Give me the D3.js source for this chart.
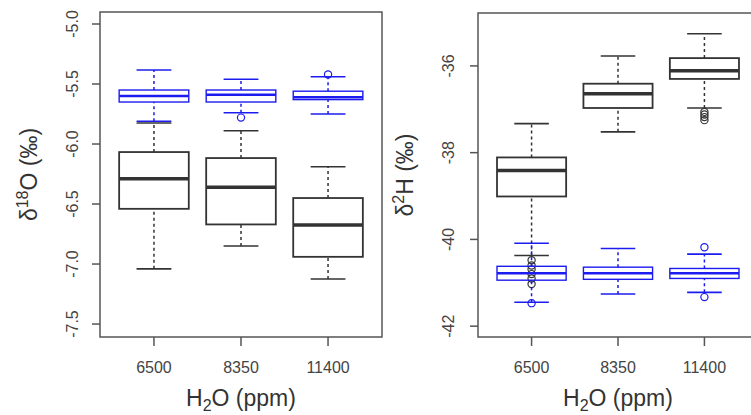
<!DOCTYPE html>
<html>
<head>
<meta charset="utf-8">
<script src="https://cdn.jsdelivr.net/npm/d3@7"></script>
<style>
	body { margin: 0; background: #fff; }
	svg { display: block; font-family: "Liberation Sans", Arial, sans-serif; }
	.frame { fill: none; stroke: #555; stroke-width: 1.5; }
	.tick-lab { fill: #444; }
</style>
</head>
<body>
<div id="chart"></div>
<script>
// groups on the x axis
let categories	= ["6500", "8350", "11400"];

// five-number summaries per group: [lower whisker, q1, median, q3, upper whisker]
let d18oBlack	= [[-7.04, -6.54, -6.29, -6.067, -5.825], [-6.85, -6.67, -6.36, -6.117, -5.89], [-7.125, -6.94, -6.675, -6.45, -6.19]];
let d18oBlue	= [[-5.81, -5.65, -5.60, -5.55, -5.383], [-5.74, -5.65, -5.59, -5.55, -5.46], [-5.75, -5.63, -5.61, -5.56, -5.44]];
let d18oBlackOut	= [[], [], []];
let d18oBlueOut		= [[], [-5.78], [-5.42]];

let d2hBlack	= [[-40.37, -39.01, -38.41, -38.11, -37.33], [-37.52, -36.97, -36.64, -36.41, -35.77], [-36.97, -36.30, -36.11, -35.82, -35.26]];
let d2hBlue		= [[-41.45, -40.94, -40.78, -40.62, -40.09], [-41.26, -40.92, -40.78, -40.64, -40.21], [-41.22, -40.90, -40.78, -40.67, -40.34]];
let d2hBlackOut	= [[-40.48, -40.60, -40.69, -40.80, -40.90, -41.03], [], [-37.06, -37.12, -37.18, -37.25]];
let d2hBlueOut	= [[-41.47], [], [-40.18, -41.33]];

// tick values
let d18oTicks	= [-7.5, -7.0, -6.5, -6.0, -5.5, -5.0];
let d2hTicks	= [-42, -40, -38, -36];

let svg = d3.select("#chart").append("svg")
	.attr("width", 751)
	.attr("height", 415);

function hyphen(fmt) {
	return (v) => fmt(v).replace("\u2212", "-");
}

function drawPanel(opt) {
	let x = d3.scaleLinear().domain([0.38, 3.62]).range([opt.left, opt.right]);
	let y = d3.scaleLinear().domain(opt.yDomain).range([337, opt.top]);
	let half = (x(1.4) - x(1)) / 1;   // box half width (boxwex 0.8)
	let cap = half / 2;

	let g = svg.append("g");

	function boxes(stats, outs, col, medW, boxW, fill) {
		let grp = g.append("g")
			.selectAll("g")
			.data(stats)
			.enter().append("g");

		// whiskers
		grp.append("line")
			.attr("x1", (d, i) => x(i + 1)).attr("x2", (d, i) => x(i + 1))
			.attr("y1", (d) => y(d[0])).attr("y2", (d) => y(d[1]))
			.attr("stroke", col).attr("stroke-width", 1.5).attr("stroke-dasharray", "3,3");
		grp.append("line")
			.attr("x1", (d, i) => x(i + 1)).attr("x2", (d, i) => x(i + 1))
			.attr("y1", (d) => y(d[3])).attr("y2", (d) => y(d[4]))
			.attr("stroke", col).attr("stroke-width", 1.5).attr("stroke-dasharray", "3,3");

		// staples
		[0, 4].forEach((k) => {
			grp.append("line")
				.attr("x1", (d, i) => x(i + 1) - cap).attr("x2", (d, i) => x(i + 1) + cap)
				.attr("y1", (d) => y(d[k])).attr("y2", (d) => y(d[k]))
				.attr("stroke", col).attr("stroke-width", 1.6);
		});

		grp.append("rect")
			.attr("x", (d, i) => x(i + 1) - half)
			.attr("width", half * 2)
			.attr("y", (d) => y(d[3]))
			.attr("height", (d) => y(d[1]) - y(d[3]))
			.attr("fill", fill)
			.attr("stroke", col).attr("stroke-width", boxW);

		grp.append("line")
			.attr("x1", (d, i) => x(i + 1) - half).attr("x2", (d, i) => x(i + 1) + half)
			.attr("y1", (d) => y(d[2])).attr("y2", (d) => y(d[2]))
			.attr("stroke", col).attr("stroke-width", medW);

		// outliers
		grp.selectAll("circle")
			.data((d, i) => outs[i].map((v) => ({ i: i, v: v })))
			.enter().append("circle")
			.attr("cx", (o) => x(o.i + 1))
			.attr("cy", (o) => y(o.v))
			.attr("r", 3.6)
			.attr("fill", "none")
			.attr("stroke", col).attr("stroke-width", 1.2);
	}

	boxes(opt.black, opt.blackOut, "#333", 3.5, 1.8, "#fff");
	boxes(opt.blue, opt.blueOut, "#1c1cf0", 2.6, 1.4, "none");

	// frame
	g.append("rect").attr("class", "frame")
		.attr("x", opt.left).attr("y", opt.top)
		.attr("width", opt.right - opt.left).attr("height", 337 - opt.top);

	// y axis
	let ya = g.append("g").attr("transform", "translate(" + opt.left + ",0)");
	ya.selectAll("line").data(opt.ticks).enter().append("line")
		.attr("x1", -8).attr("x2", 0)
		.attr("y1", (v) => y(v)).attr("y2", (v) => y(v))
		.attr("stroke", "#555").attr("stroke-width", 1.5);
	ya.selectAll("text").data(opt.ticks).enter().append("text")
		.attr("class", "tick-lab")
		.attr("transform", (v) => "translate(" + (opt.labX - opt.left) + "," + y(v) + ") rotate(-90)")
		.attr("text-anchor", "middle")
		.style("font-size", "16px")
		.text(hyphen(opt.fmt));

	// x axis
	let xa = g.append("g").attr("transform", "translate(0,337)");
	xa.selectAll("line").data(categories).enter().append("line")
		.attr("x1", (d, i) => x(i + 1)).attr("x2", (d, i) => x(i + 1))
		.attr("y1", 0).attr("y2", 9)
		.attr("stroke", "#555").attr("stroke-width", 1.5);
	xa.selectAll("text").data(categories).enter().append("text")
		.attr("class", "tick-lab")
		.attr("x", (d, i) => x(i + 1))
		.attr("y", 36)
		.attr("text-anchor", "middle")
		.style("font-size", "16px")
		.text((d) => d);

	// x title
	let xt = g.append("text")
		.attr("x", x(2)).attr("y", 406)
		.attr("text-anchor", "middle")
		.attr("fill", "#333")
		.style("font-size", "23px");
	xt.append("tspan").text("H");
	xt.append("tspan").attr("dy", 5).style("font-size", "16px").text("2");
	xt.append("tspan").attr("dy", -5).text("O (ppm)");

	// y title
	let yt = g.append("text")
		.attr("transform", "translate(" + opt.titleX + "," + ((opt.top + 337) / 2) + ") rotate(-90)")
		.attr("text-anchor", "middle")
		.attr("fill", "#333")
		.style("font-size", "23px");
	yt.append("tspan").text("\u03b4");
	yt.append("tspan").attr("dy", -9).style("font-size", "16px").text(opt.sup);
	yt.append("tspan").attr("dy", 9).text(opt.elem + " (\u2030)");
}

drawPanel({
	left: 100, right: 382, top: 12,
	yDomain: [-7.608, -4.9],
	black: d18oBlack, blue: d18oBlue, blackOut: d18oBlackOut, blueOut: d18oBlueOut,
	ticks: d18oTicks, fmt: d3.format(".1f"),
	labX: 78, titleX: 37, sup: "18", elem: "O"
});

drawPanel({
	left: 478, right: 758, top: 13,
	yDomain: [-42.25, -34.78],
	black: d2hBlack, blue: d2hBlue, blackOut: d2hBlackOut, blueOut: d2hBlueOut,
	ticks: d2hTicks, fmt: d3.format("d"),
	labX: 454, titleX: 413, sup: "2", elem: "H"
});
</script>
</body>
</html>
